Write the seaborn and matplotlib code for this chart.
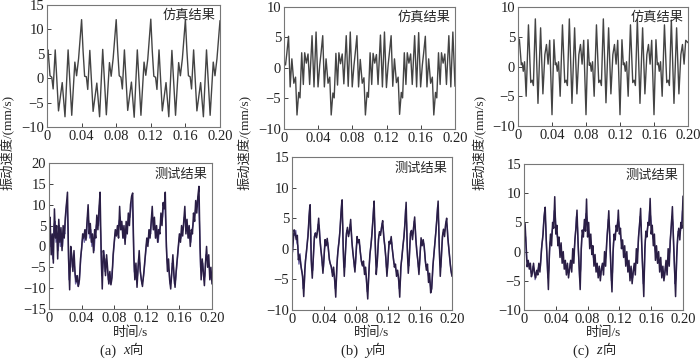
import numpy as np
import matplotlib
matplotlib.use("Agg")
import matplotlib.pyplot as plt
import seaborn as sns

# ---- simulated signals (turning points) ----
sim_x_t = [0, 0.0012, 0.0035, 0.0055, 0.0071, 0.0095, 0.0133, 0.0176, 0.0208, 0.0244, 0.0286, 0.0322, 0.0342, 0.0365, 0.0400,
           0.0417, 0.0435, 0.0455, 0.0471, 0.0495, 0.0533, 0.0576, 0.0608, 0.0644, 0.0686, 0.0722, 0.0742, 0.0765, 0.0800,
           0.0817, 0.0835, 0.0855, 0.0871, 0.0895, 0.0933, 0.0976, 0.1008, 0.1044, 0.1086, 0.1122, 0.1142, 0.1165, 0.1200,
           0.1217, 0.1235, 0.1255, 0.1271, 0.1295, 0.1333, 0.1376, 0.1408, 0.1444, 0.1486, 0.1522, 0.1542, 0.1565, 0.1600,
           0.1617, 0.1635, 0.1655, 0.1671, 0.1695, 0.1733, 0.1776, 0.1808, 0.1844, 0.1886, 0.1922, 0.1942, 0.1965, 0.2000]
sim_x_v = [5.6, 5.8, 0.5, 0.2, -2.2, 5.8, -6.7, -0.9, -7.9, 5.8, -7.6, 3.3, 0.5, 4.0, 12.0,
           5.6, 0.4, 0.3, -2.3, 5.7, -6.8, -1.0, -7.9, 5.9, -7.5, 3.2, 0.4, 4.1, 12.0,
           5.7, 0.5, 0.2, -2.2, 5.8, -6.6, -0.8, -8.0, 5.8, -7.6, 3.3, 0.6, 3.9, 12.1,
           5.6, 0.4, 0.2, -2.3, 5.8, -6.7, -0.9, -7.9, 5.7, -7.6, 3.2, 0.5, 4.0, 12.0,
           5.7, 0.5, 0.3, -2.2, 5.8, -6.7, -0.9, -7.9, 5.8, -7.6, 3.3, 0.5, 4.0, 11.8]

sim_y_t = [0, 0.0018, 0.0033, 0.0053, 0.0072, 0.0092, 0.0115, 0.0135,
           0.0152, 0.0172, 0.0187, 0.0207, 0.0226, 0.0242, 0.0261, 0.0281, 0.0300, 0.0328, 0.0351, 0.0375, 0.0398, 0.0418, 0.0433, 0.0453, 0.0472, 0.0492, 0.0515, 0.0535,
           0.0552, 0.0572, 0.0587, 0.0607, 0.0626, 0.0642, 0.0661, 0.0681, 0.0700, 0.0728, 0.0751, 0.0775, 0.0798, 0.0818, 0.0833, 0.0853, 0.0872, 0.0892, 0.0915, 0.0935,
           0.0952, 0.0972, 0.0987, 0.1007, 0.1026, 0.1042, 0.1061, 0.1081, 0.1100, 0.1128, 0.1151, 0.1175, 0.1198, 0.1218, 0.1233, 0.1253, 0.1272, 0.1292, 0.1315, 0.1335,
           0.1352, 0.1372, 0.1387, 0.1407, 0.1426, 0.1442, 0.1461, 0.1481, 0.1500, 0.1528, 0.1551, 0.1575, 0.1598, 0.1618, 0.1633, 0.1653, 0.1672, 0.1692, 0.1715, 0.1735,
           0.1752, 0.1772, 0.1787, 0.1807, 0.1826, 0.1842, 0.1861, 0.1881, 0.1900, 0.1928, 0.1951, 0.1975, 0.2000]
sim_y_v = [1.0, 0.5, 2.4, 5.2, -3.1, 1.5, -2.5, -1.5,
           -7.7, -4.0, -4.9, 2.5, -2.7, 2.5, 0.8, 2.3, -2.7, 5.3, -3.1, 5.9, -3.1, 0.5, 2.4, 5.3, -3.1, 1.5, -2.5, -1.5,
           -7.7, -4.1, -4.9, 2.4, -2.8, 2.5, 0.7, 2.3, -2.6, 5.3, -3.0, 5.9, -3.1, 0.4, 2.4, 5.3, -3.1, 1.4, -2.5, -1.6,
           -7.7, -4.0, -4.8, 2.5, -2.7, 2.4, 0.8, 2.2, -2.7, 5.4, -3.1, 5.9, -3.2, 0.5, 2.5, 5.3, -3.0, 1.5, -2.4, -1.5,
           -7.6, -4.0, -4.9, 2.5, -2.7, 2.5, 0.8, 2.3, -2.7, 5.3, -3.1, 5.8, -3.1, 0.5, 2.4, 5.2, -3.1, 1.5, -2.5, -1.5,
           -7.7, -4.0, -4.9, 2.5, -2.7, 2.5, 0.8, 2.3, -2.7, 5.3, -3.1, 5.9, -3.0]

sim_z_t = [0, 0.0016, 0.0039, 0.0050, 0.0062, 0.0077, 0.0096, 0.0123, 0.0150, 0.0166, 0.0181, 0.0204, 0.0235, 0.0266, 0.0293, 0.0316, 0.0335, 0.0354, 0.0373,
           0.0400, 0.0423, 0.0439, 0.0450, 0.0462, 0.0477, 0.0496, 0.0523, 0.0550, 0.0566, 0.0581, 0.0604, 0.0635, 0.0666, 0.0693, 0.0716, 0.0735, 0.0754, 0.0773,
           0.0800, 0.0823, 0.0839, 0.0850, 0.0862, 0.0877, 0.0896, 0.0923, 0.0950, 0.0966, 0.0981, 0.1004, 0.1035, 0.1066, 0.1093, 0.1116, 0.1135, 0.1154, 0.1173,
           0.1200, 0.1223, 0.1239, 0.1250, 0.1262, 0.1277, 0.1296, 0.1323, 0.1350, 0.1366, 0.1381, 0.1404, 0.1435, 0.1466, 0.1493, 0.1516, 0.1535, 0.1554, 0.1573,
           0.1600, 0.1623, 0.1639, 0.1650, 0.1662, 0.1677, 0.1696, 0.1723, 0.1750, 0.1766, 0.1781, 0.1804, 0.1835, 0.1866, 0.1893, 0.1916, 0.1935, 0.1954, 0.1973, 0.2000]
sim_z_v = [3.9, 4.6, 0.3, 0.6, -0.8, 0.8, -5.0, 7.0, -2.7, -2.3, -3.2, 8.0, -6.2, 6.5, -4.6, 2.0, 3.7, 0.4, 4.4,
           -8.1, 4.5, 0.3, 0.6, -0.8, 0.8, -5.0, 7.0, -2.7, -2.3, -3.2, 8.0, -6.2, 6.5, -4.6, 2.0, 3.7, 0.4, 4.4,
           -8.1, 4.5, 0.2, 0.6, -0.8, 0.8, -5.0, 7.0, -2.7, -2.3, -3.2, 8.0, -6.1, 6.5, -4.6, 2.0, 3.7, 0.4, 4.4,
           -8.1, 4.5, 0.3, 0.6, -0.8, 0.8, -5.0, 7.0, -2.7, -2.3, -3.2, 8.0, -6.2, 6.5, -4.6, 2.0, 3.7, 0.4, 4.4,
           -8.1, 4.5, 0.3, 0.6, -0.8, 0.8, -5.0, 7.0, -2.7, -2.3, -3.2, 7.8, -6.2, 6.5, -4.6, 2.0, 3.7, 0.4, 4.4, 4.0]

# ---- measured signals, dark trace (evenly sampled over 0 - 0.20 s) ----
test_x = [3.5, 7, -2, 3, -4, 9, 2, 5, -3, 6.5, 1, 4.5, -1, 5, 2, 7, 10, 13,
          -3, -10.4, 0, -2.5, -6, -1, -6.5, -8.5, -7, -9.6, -8, -3, -0.5, 3, 2, 4, 1.5, 6, 10, 3, 5.5, 1, 3, -1.5, 4, 2, 7.5, 4, 9, 13,
          -1, -10.2, -1, -3, -7, -2, -5.5, -9, -6, -9.2, -7.5, -2, 1, 4, 2.5, 5, 2, 9.6, 4, 6, 2, 5, 0.5, 6, 3, 8, 5, 10, 12, 12.8,
          -2, -8, -4, -9.8, -5, -1, -6, -8, -9.6, -7, -4, -1, 2, 0, 4, 2, 6, 9.6, 4, 7, 2, 5, 1, 4, 3, 8, 5, 10.5, 9, 13,
          0, -6, -3, -8, -10.2, -6, -2, -7, -9.8, -6, -3, 0, 3, 1, 5, 2.5, 6, 9.6, 3, 6.5, 2, 5, 0, 4, 3, 8, 6, 11, 8, 12, 14.4,
          0, -8, -3, -6, -9.4, -4, 0, -5, -2, -8, -5, -9]

test_y = [-1.3, 1.0, 3.1, 2.5, 1.5, 2.2, -1.8, -1.0, -2.3, -3.5, -4.5,
          -7.8, -3.5, -1.3, 0.4, 2.0, 5.3, 7.2, -1.8, -4.8, -1.5, 2.0, 2.6, 1.8, 3.0, 5.0, 2.0, 0.0, -1.5, -4.0, -1.5, 1.5, 0.5, 1.7, 0.2, -1.8, -2.5, -3.0, -4.5, -3.0, -5.0,
          -7.9, -3, -0.5, 1, 3, 6, 8, 0, -4.5, -1, 2.5, 3.5, 2, 3, 4.8, 1.5, -0.5, -2, -3.8, -1, 2, 1, 1.5, -0.5, -2, -2.8, -2, -4.2, -3, -5.5,
          -8.2, -4, -1, 0.5, 2.5, 5, 7.8, 1, -4.2, -2, 1.5, 2.8, 2.2, 3.5, 4.6, 2, 0.5, -1.5, -4.5, -2, 1.2, 0.8, 2, 0, -1.5, -3, -2.5, -4.5, -3.5, -5,
          -7.9, -3, -1.5, 0.5, 2, 4.5, 7.6, 0.5, -4, -1.5, 2.5, 3, 1.5, 3.5, 5.2, 1.8, -0.5, -2, -4.2, -1.2, 1.8, 0.5, 1.5, 0.3, -2, -3.5, -2.5, -5.5, -4, -7.2,
          -6.5, -3, -1, 0.8, 3, 5.5, 7.8, 0.5, -4.5, -1.5, 2, 3.2, 2, 4, 5, 2, 0, -1.8, -3.5, -4.5]

test_z = [0.5, 4.8, 1.0, -2.6, -1.5, -3.0, -2.0, -4.3, -3.5, -2.0, -3.8, -4.5, -3.2, -4.0, -2.0, -3.5, -1.0, 1.4, 3.0, 6.0,
          7.6, 2.0, -2.0, -6.5, 0.0, 3.0, 1.0, 5.0, 4.0, 9.4,
          3.0, 4.5, 1.0, 2.5, -1.0, 1.5, -2.0, 0.0, -3.0, -1.5, -4.0, -2.0, -4.5, -3.0, -1.5, -3.5, 0.5, -2.0, 2.0, 4.0, 7.1,
          1.5, -2.5, -6.5, 0.5, 3.7, 2.5, 5.5, 3.5, 9.0,
          2.5, 5.0, 0.5, 3.0, -0.5, 1.0, -2.5, -0.5, -3.5, -2.0, -4.5, -2.5, -5.0, -3.0, -2.0, -4.0, 0.0, -2.5, 1.5, 4.0, 7.0,
          2.0, -3.0, -6.9, 0.0, 3.0, 2.0, 4.5, 3.5, 7.1,
          3.0, 4.0, 0.5, 2.0, -1.0, 1.0, -2.5, 0.0, -3.5, -1.5, -5.0, -2.5, -5.5, -3.5, -2.0, -4.0, 0.5, -2.0, 2.5, 4.5, 7.4,
          1.5, -3.0, -7.7, 0.5, 3.5, 2.5, 5.0, 4.5, 9.1,
          3.0, 4.5, 1.0, 3.0, -1.5, 1.0, -2.0, 0.0, -3.5, -1.0, -4.5, -2.5, -5.0, -3.5, -1.5, -4.0, 0.5, -2.5, 2.0, 4.5, 7.7,
          2.0, -3.0, -7.7, -1.0, 2.5, 4.0, 2.0, 5.0, 4.0, 9.5]

# ---- measured signals, lighter trace (sampled half a step later) ----
test_x_light = [6, 0, 2, -3, 5, 6, 1, 3, -1, 5, 0, 3, 0, 4, 3, 8, 11, 4,
                -8, -4, -1, -5, -3, -5, -9, -7, -9.5, -9, -6, -2, 1, 3, 1, 4, 2, 7, 6, 2, 4, 0, 2, -1, 3, 5, 6, 5, 10, 3,
                -7, -5, -1, -6, -3, -5, -8, -8, -9, -7, -5, -1, 2, 4, 3, 4, 6, 7, 4, 5, 2, 3, 2, 5, 5, 7, 7, 10, 11, 4,
                -6, -7, -8, -7, -3, -4, -7, -9, -8, -6, -3, 0, 2, 1, 4, 3, 7, 6, 4, 5, 2, 4, 1, 4, 5, 7, 7, 10, 11, 5,
                -3, -5, -6, -9, -8, -4, -5, -9, -8, -5, -2, 1, 3, 2, 4, 4, 7, 6, 4, 5, 2, 3, 1, 4, 5, 7, 8, 10, 11, 12, 5,
                -5, -6, -4, -8, -7, -2, -3, -4, -5, -7, -8]

test_y_light = [-0.5, 2.5, 2.2, 3.0, 1.0, 0.5, -2.5, -0.8, -3.0, -3.8, -6.5,
                -6.0, -2.0, -0.8, 1.5, 3.5, 6.8, 3.0, -3.5, -3.5, 0.5, 2.5, 2.0, 2.5, 4.0, 3.8, 1.0, -1.0, -2.8, -3.0, 0.0, 1.0, 1.2, 1.0, -0.8, -2.2, -2.8, -3.8, -4.0, -4.2, -6.5,
                -5.5, -1.5, 0.5, 2.0, 4.5, 7.5, 4.0, -3.0, -3.0, 1.0, 3.0, 2.5, 2.5, 4.0, 3.0, 0.5, -1.2, -3.0, -2.5, 0.5, 1.5, 1.2, 0.5, -1.2, -2.5, -2.3, -3.0, -3.8, -4.2, -7.0,
                -6.0, -2.5, -0.2, 1.5, 4.0, 6.8, 4.5, -2.0, -3.0, -0.3, 2.2, 2.5, 3.0, 4.2, 3.2, 1.2, -0.5, -3.0, -3.2, -0.3, 1.0, 1.5, 1.0, -0.8, -2.2, -2.8, -3.5, -4.0, -4.2, -6.5,
                -5.5, -2.2, -0.5, 1.2, 3.2, 6.5, 4.0, -2.0, -2.8, 0.5, 2.8, 2.2, 2.5, 4.5, 3.5, 0.8, -1.2, -3.0, -2.7, 0.3, 1.2, 1.0, 0.9, -0.8, -2.8, -3.0, -4.0, -4.8, -5.6, -7.0,
                -4.8, -2.0, 0.0, 2.0, 4.2, 6.8, 4.2, -2.0, -3.0, 0.3, 2.6, 2.6, 3.0, 4.5, 3.5, 1.0, -0.9, -2.7, -4.0]

test_z_light = [3.0, 2.5, -1.5, -2.0, -2.5, -2.0, -3.5, -4.0, -2.5, -3.0, -4.8, -3.5, -3.8, -2.8, -2.5, -2.5, 0.5, 2.0, 5.0, 7.0,
                4.5, -0.5, -4.5, -3.0, 1.5, 2.0, 3.5, 4.5, 7.0, 6.0,
                3.5, 2.5, 2.0, 0.5, 0.0, -0.5, -1.0, -1.8, -2.0, -3.0, -3.2, -3.5, -3.5, -2.0, -2.8, -1.5, -1.0, 0.5, 3.0, 6.0,
                4.0, -0.5, -4.5, -3.0, 2.5, 3.0, 4.0, 4.5, 6.5, 5.5,
                4.0, 2.5, 2.0, 1.0, 0.5, -1.0, -1.5, -2.0, -2.5, -3.5, -3.5, -4.0, -4.0, -2.5, -3.2, -2.0, -1.5, -0.5, 3.0, 5.5,
                4.5, -0.5, -5.0, -3.5, 1.5, 2.5, 3.5, 4.0, 5.5, 5.0,
                3.5, 2.0, 1.5, 0.5, 0.0, -1.0, -1.2, -2.0, -2.5, -3.5, -4.0, -4.0, -4.5, -2.8, -3.0, -2.0, -0.8, 0.5, 3.5, 6.0,
                4.5, -1.0, -5.5, -3.5, 2.0, 3.0, 4.0, 5.0, 7.0, 6.0,
                4.0, 2.5, 2.0, 0.5, -0.5, -0.5, -1.0, -2.0, -2.0, -3.0, -3.5, -4.0, -4.2, -2.5, -2.8, -1.8, -1.0, 0.0, 3.2, 6.0,
                5.0, -0.5, -5.5, -4.5, 1.0, 3.5, 3.0, 3.5, 4.5, 7.0]

x_ticks = [0, 0.04, 0.08, 0.12, 0.16, 0.20]
x_labels = ["0", "0.04", "0.08", "0.12", "0.16", "0.20"]
captions = ["(a)  ", "(b)  ", "(c)  "]
directions = ["x", "y", "z"]

sns.set_theme(style="ticks")
plt.rcParams["font.family"] = ["Liberation Serif", "Noto Sans CJK SC"]
plt.rcParams["axes.unicode_minus"] = True

fig = plt.figure(figsize=(7, 3.62), dpi=100)
W, H = 700, 362


def px_axes(x0, y0, x1, y1):
    return fig.add_axes([x0 / W, 1 - y1 / H, (x1 - x0) / W, (y1 - y0) / H])


top_boxes = [(47, 5, 220, 127), (284, 7, 455, 129), (518, 7, 688, 126)]
bot_boxes = [(49, 163, 212, 309), (292, 157, 452, 310), (524, 164, 683, 310)]
top_ylims = [(-10, 15), (-10, 10), (-10, 10)]
bot_ylims = [(-15, 20), (-10, 15), (-10, 15)]
sims = [(sim_x_t, sim_x_v), (sim_y_t, sim_y_v), (sim_z_t, sim_z_v)]
tests = [test_x, test_y, test_z]
tests_light = [test_x_light, test_y_light, test_z_light]
ylabel_x = [8, 245, 480]


def style(ax, ylim):
    ax.set_xlim(0, 0.2)
    ax.set_ylim(*ylim)
    ax.set_xticks(x_ticks)
    ax.set_xticklabels(x_labels)
    ax.set_yticks(np.arange(ylim[0], ylim[1] + 1, 5))
    ax.tick_params(direction="in", length=3, width=0.6, labelsize=10.5, pad=2, colors="#222222")
    for s in ax.spines.values():
        s.set_color("#777777")
        s.set_linewidth(0.8)
    ax.set_xlabel("")
    ax.set_ylabel("")


for k in range(3):
    ax = px_axes(*top_boxes[k])
    t, v = sims[k]
    sns.lineplot(x=t, y=v, ax=ax, color="#444444", linewidth=1.0, estimator=None, sort=False)
    style(ax, top_ylims[k])
    ax.text(0.975, 0.965, "仿真结果", transform=ax.transAxes, ha="right", va="top", fontsize=9.5)

    ax2 = px_axes(*bot_boxes[k])
    vals = tests[k]
    lite = tests_light[k]
    dt = 0.2 / (len(vals) - 1)
    tt = np.linspace(0, 0.2, len(vals))
    tl = np.linspace(dt / 2, 0.2 - dt / 2, len(lite))
    sns.lineplot(x=tl, y=lite, ax=ax2, color="#6f67a6", linewidth=1.0, estimator=None, sort=False)
    sns.lineplot(x=tt, y=vals, ax=ax2, color="#2a1e45", linewidth=1.1, estimator=None, sort=False)
    style(ax2, bot_ylims[k])
    ax2.text(0.97, 0.96, "测试结果", transform=ax2.transAxes, ha="right", va="top", fontsize=9.5)

    cx = (bot_boxes[k][0] + bot_boxes[k][2]) / 2 / W
    fig.text(cx, 1 - 333 / H, "时间/s", ha="center", va="center", fontsize=9.5)
    fig.text(cx - 0.01, 1 - 351 / H, captions[k], ha="right", va="center", fontsize=10.5)
    t2 = fig.text(cx - 0.01, 1 - 351 / H, directions[k], ha="left", va="center", fontsize=10.5, style="italic")
    ax2.annotate("向", xy=(1, 0.5), xycoords=t2, ha="left", va="center", fontsize=9.5)
    fig.text(ylabel_x[k] / W, 1 - 142 / H, "振动速度/(mm/s)", rotation=90, ha="center", va="center", fontsize=9.5)

fig.savefig("out.png", dpi=100)
